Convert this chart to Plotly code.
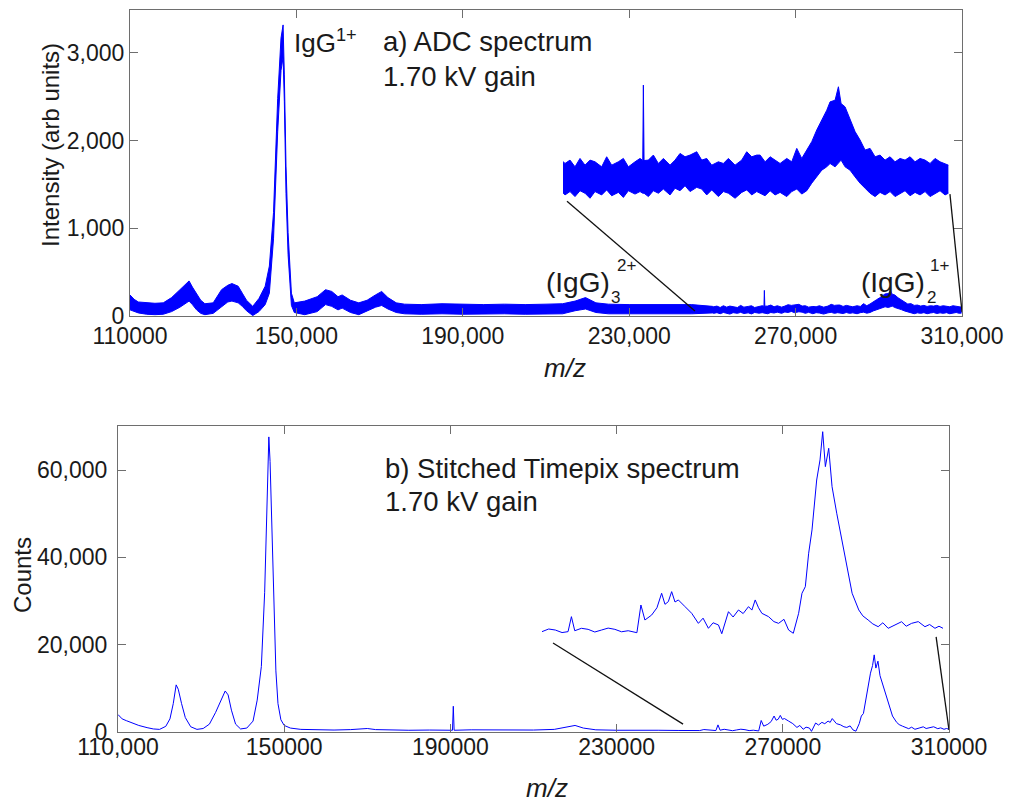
import plotly.graph_objects as go

# ---------------- data ----------------
# a) ADC spectrum: noisy band described by its lower / upper envelope
top_mz = [110000, 111000, 112000, 114000, 116000, 118000, 120000, 122000, 123500, 124200,
          125000, 126000, 127000, 128000, 130000, 132000, 133500, 134500, 136000, 137000,
          138000, 139500, 141000, 142500, 143500, 144500, 145500, 146300, 146800, 147100,
          147500, 148000, 148800, 149500, 152000, 155000, 157000, 158500, 160000, 161000,
          163000, 165000, 167000, 169000, 170500, 172000, 174000, 176000, 180000, 185000,
          190000, 195000, 200000, 205000, 210000, 214000, 217000, 219500, 222000, 225000,
          230000, 235000, 240000, 245000, 250000, 250311, 251089, 251866, 252644, 253421,
          254199, 254976, 256013, 256790, 257568, 258604, 259382, 260159, 261196, 261973,
          262400, 262492, 262600, 263269, 264047, 264824, 265602, 266638, 267416, 268193,
          268971, 269748, 270785, 271562, 272340, 273117, 274154, 274931, 275709, 276745,
          277782, 278559, 279337, 280114, 280637, 281414, 282191, 282968, 283745, 284781,
          285558, 286335, 287112, 287889, 288666, 289443, 290220, 290997, 291515, 292292,
          292810, 293224, 293846, 294623, 295400, 296177, 296954, 297731, 298508, 299285,
          300062, 300839, 301616, 302393, 303170, 303947, 304724, 305501, 306278, 307055,
          307832, 308609, 309386, 309904]
top_lo = [70, 50, 35, 20, 15, 20, 50, 100, 150, 170,
          130, 70, 30, 15, 30, 100, 160, 170, 150, 110,
          60, 5, 50, 130, 260, 880, 2100, 2800, 2950, 2450,
          1400, 700, 120, 40, 15, 50, 130, 110, 70, 90,
          40, 15, 60, 100, 120, 80, 40, 25, 20, 25,
          20, 25, 25, 20, 25, 25, 60, 80, 40, 25,
          25, 25, 25, 25, 35, 30, 38, 26, 40, 34,
          22, 38, 30, 42, 28, 36, 24, 40, 32, 38,
          34, 34, 34, 26, 40, 34, 44, 30, 46, 40,
          52, 38, 48, 44, 30, 42, 26, 38, 34, 22,
          36, 42, 30, 38, 34, 28, 40, 30, 36, 26,
          38, 44, 32, 40, 58, 73, 89, 97, 105, 97,
          105, 113, 97, 89, 73, 58, 46, 34, 26, 36,
          30, 38, 26, 34, 40, 28, 36, 30, 38, 26,
          34, 40, 30, 34]
top_hi = [240, 190, 160, 150, 145, 150, 210, 300, 370, 400,
          330, 260, 180, 140, 150, 300, 350, 370, 340, 260,
          180, 110, 200, 340, 570, 1180, 2480, 3170, 3320, 2750,
          1710, 950, 260, 150, 170, 220, 300, 280, 220, 240,
          180, 150, 180, 240, 280, 210, 150, 135, 130, 140,
          135, 130, 135, 130, 135, 140, 170, 210, 150, 135,
          130, 130, 130, 130, 110, 105, 113, 97, 117, 101,
          113, 109, 97, 121, 101, 109, 117, 97, 109, 117,
          112, 292, 112, 113, 125, 105, 117, 101, 113, 129,
          121, 125, 133, 113, 117, 101, 109, 105, 117, 101,
          113, 133, 121, 125, 125, 109, 121, 113, 105, 117,
          109, 141, 117, 137, 157, 185, 208, 232, 252, 256,
          288, 248, 240, 208, 181, 161, 137, 141, 121, 125,
          113, 121, 109, 117, 113, 121, 109, 117, 113, 105,
          117, 109, 105, 101]

# b) Stitched Timepix spectrum
bot_mz = [110000, 111000, 112000, 113500, 115000, 117000, 118500, 120000, 121500, 122500,
          123300, 124000, 124500, 125300, 126200, 127500, 129000, 130500, 132000, 133500,
          134800, 135800, 136500, 137300, 138300, 139500, 141000, 142500, 143500, 144500,
          145300, 145800, 146100, 146300, 146600, 147000, 147500, 148000, 148500, 149200,
          150000, 151500, 154000, 158000, 162000, 166000, 170000, 172000, 176000, 180000,
          185000, 190500, 190700, 190900, 195000, 200000, 205000, 210000, 215000, 218000,
          220000, 222000, 225000, 230000, 235000, 240000, 245000, 250000, 251000, 252000,
          253000, 253900, 254400, 254900, 255900, 256900, 257900, 258900, 259900, 260900,
          261900, 262900, 264200, 264800, 265400, 266400, 267200, 267900, 268400, 268900,
          269400, 269900, 270400, 271400, 272400, 273400, 274100, 274900, 275600, 276400,
          276900, 277900, 278600, 279400, 280100, 280900, 281400, 281900, 282400, 282900,
          283900, 284700, 285400, 286200, 286900, 287600, 288400, 288900, 289400, 289900,
          290400, 291100, 291600, 292000, 292400, 292900, 293400, 294100, 294900, 295600,
          296400, 297400, 298000, 298800, 299500, 300300, 301000, 301800, 302800, 303800,
          304500, 305300, 306300, 307300, 308000, 308800, 309400, 310000]
bot_counts = [4000, 3000, 2600, 2000, 1500, 1000, 700, 600, 1300, 3000,
              6500, 10800, 9800, 6500, 3300, 1200, 600, 800, 1800, 4500,
              7500, 9400, 8500, 5000, 1800, 700, 900, 2500, 7300, 15000,
              32000, 50000, 66000, 67600, 62000, 47000, 27000, 14000, 6500, 2800,
              1500, 900, 600, 500, 450, 550, 800, 550, 450, 400,
              450, 400, 5900, 400, 500, 450, 500, 450, 600, 1200,
              1500, 900, 500, 400, 450, 400, 350, 330, 560, 470,
              250, 330, 1630, 410, 620, 530, 300, 470, 640, 530,
              320, 410, 240, 2640, 1340, 1770, 2400, 3660, 2700, 2930,
              3800, 2900, 3080, 2500, 1920, 1050, 1500, 620, 1100, 910,
              150, 2060, 1600, 2210, 1900, 2500, 2200, 3080, 2400, 1920,
              1630, 1200, 1050, 1400, 470, 190, 1920, 3660, 4230, 7130,
              9150, 13480, 15220, 17670, 14640, 16230, 12900, 10600, 8280, 5960,
              3660, 2210, 1700, 1340, 1000, 760, 1100, 620, 900, 1190,
              800, 1050, 1200, 760, 950, 620, 800, 620]

top_xticks = [110000, 150000, 190000, 230000, 270000, 310000]
top_xlabels = ["110000", "150,000", "190,000", "230,000", "270,000", "310,000"]
top_yticks = [0, 1000, 2000, 3000]
top_ylabels = ["0", "1,000", "2,000", "3,000"]
bot_xticks = [110000, 150000, 190000, 230000, 270000, 310000]
bot_xlabels = ["110,000", "150000", "190000", "230000", "270000", "310000"]
bot_yticks = [0, 20000, 40000, 60000]
bot_ylabels = ["0", "20,000", "40,000", "60,000"]

INSET_FROM = 250000  # start of the zoomed window shown in both insets

# ---------------- figure ----------------
W, H = 1013, 803
PAGE_OFF = 8  # the page body margin shifts the figure by 8 px
BLUE = "#0000ff"
AXC = "#6e6e6e"
TXT = "#1a1a1a"
FONT = "Liberation Sans, Arial, sans-serif"


def fx(px):
    return (px - PAGE_OFF) / W


def fy(py):
    return 1 - (py - PAGE_OFF) / H


fig = go.Figure()


def band(xs, lo, hi, xa, ya):
    fig.add_trace(go.Scatter(x=xs, y=lo, mode="lines", line=dict(color=BLUE, width=1),
                             xaxis=xa, yaxis=ya, hoverinfo="skip", showlegend=False))
    fig.add_trace(go.Scatter(x=xs, y=hi, mode="lines", line=dict(color=BLUE, width=1),
                             fill="tonexty", fillcolor=BLUE,
                             xaxis=xa, yaxis=ya, hoverinfo="skip", showlegend=False))


# main ADC panel
band(top_mz, top_lo, top_hi, "x", "y")
# ADC inset
idx = [i for i, m in enumerate(top_mz) if m >= INSET_FROM]
band([top_mz[i] for i in idx], [top_lo[i] for i in idx], [top_hi[i] for i in idx], "x3", "y3")

# main Timepix panel
fig.add_trace(go.Scatter(x=bot_mz, y=bot_counts, mode="lines", line=dict(color=BLUE, width=1),
                         xaxis="x2", yaxis="y2", hoverinfo="skip", showlegend=False))
# Timepix inset
idx = [i for i, m in enumerate(bot_mz) if m >= INSET_FROM]
fig.add_trace(go.Scatter(x=[bot_mz[i] for i in idx], y=[bot_counts[i] for i in idx], mode="lines",
                         line=dict(color=BLUE, width=1),
                         xaxis="x4", yaxis="y4", hoverinfo="skip", showlegend=False))

axis_common = dict(showline=True, linecolor=AXC, linewidth=1, mirror="ticks", ticks="inside",
                   ticklen=8, tickcolor=AXC, showgrid=False, zeroline=False, automargin=False,
                   tickfont=dict(family=FONT, size=23, color=TXT))
hidden = dict(visible=False, automargin=False, showgrid=False, zeroline=False)

fig.update_layout(
    width=W, height=H,
    margin=dict(l=0, r=0, t=0, b=0, pad=0, autoexpand=False),
    paper_bgcolor="white", plot_bgcolor="rgba(0,0,0,0)",
    showlegend=False,
    xaxis=dict(domain=[fx(130), fx(962)], range=[110000, 310000], anchor="y",
               tickmode="array", tickvals=top_xticks, ticktext=top_xlabels,
               ticklabelstandoff=-1, **axis_common),
    yaxis=dict(domain=[fy(316), fy(10)], range=[0, 3490], anchor="x",
               tickmode="array", tickvals=top_yticks, ticktext=top_ylabels,
               ticklabelstandoff=0, **axis_common),
    xaxis2=dict(domain=[fx(118), fx(949)], range=[110000, 310000], anchor="y2",
                tickmode="array", tickvals=bot_xticks, ticktext=bot_xlabels,
                ticklabelstandoff=-6, **axis_common),
    yaxis2=dict(domain=[fy(732), fy(426)], range=[0, 70100], anchor="x2",
                tickmode="array", tickvals=bot_yticks, ticktext=bot_ylabels,
                ticklabelstandoff=5, **axis_common),
    xaxis3=dict(domain=[fx(563), fx(949)], range=[250000, 310000], anchor="y3", **hidden),
    yaxis3=dict(domain=[fy(210), fy(70)], range=[-6, 328], anchor="x3", **hidden),
    xaxis4=dict(domain=[fx(542), fx(943)], range=[250000, 310000], anchor="y4", **hidden),
    yaxis4=dict(domain=[fy(640), fy(425)], range=[-394, 18250], anchor="x4", **hidden),
)

# connector lines from the zoomed region to the insets
conn = dict(color="#111111", width=1.3)
fig.add_shape(type="line", xref="x", yref="y", x0=215050, y0=1310, x1=245800, y1=57, line=conn)
fig.add_shape(type="line", xref="x", yref="y", x0=307100, y0=1390, x1=310000, y1=46, line=conn)
fig.add_shape(type="line", xref="x2", yref="y2", x0=214700, y0=20400, x1=246000, y1=1800, line=conn)
fig.add_shape(type="line", xref="x2", yref="y2", x0=306900, y0=21800, x1=310000, y1=460, line=conn)


def label(text, px, py, size=26, xanchor="left", angle=0):
    fig.add_annotation(text=text, x=fx(px), y=fy(py), xref="paper", yref="paper",
                       xanchor=xanchor, yanchor="middle", showarrow=False, textangle=angle,
                       font=dict(family=FONT, size=size, color=TXT))


# panel a texts
label("IgG<sup>1+</sup>", 292, 42)
label("a) ADC spectrum", 381, 42, size=27.5)
label("1.70 kV gain", 381, 76, size=27.5)
label("(IgG)", 544, 282, size=28)
label("3", 609, 297, size=17)
label("2+", 615, 266, size=17)
label("(IgG)", 859, 282, size=28)
label("2", 925, 297, size=17)
label("1+", 928, 266, size=17)
label("Intensity (arb units)", 50, 145, size=24, xanchor="center", angle=-90)
label("<i>m/z</i>", 565, 368, size=26, xanchor="center")

# panel b texts
label("b) Stitched Timepix spectrum", 383, 469, size=27.5)
label("1.70 kV gain", 383, 501, size=27.5)
label("Counts", 22, 575, size=24, xanchor="center", angle=-90)
label("<i>m/z</i>", 547, 788, size=26, xanchor="center")

fig.write_html("out.html")
